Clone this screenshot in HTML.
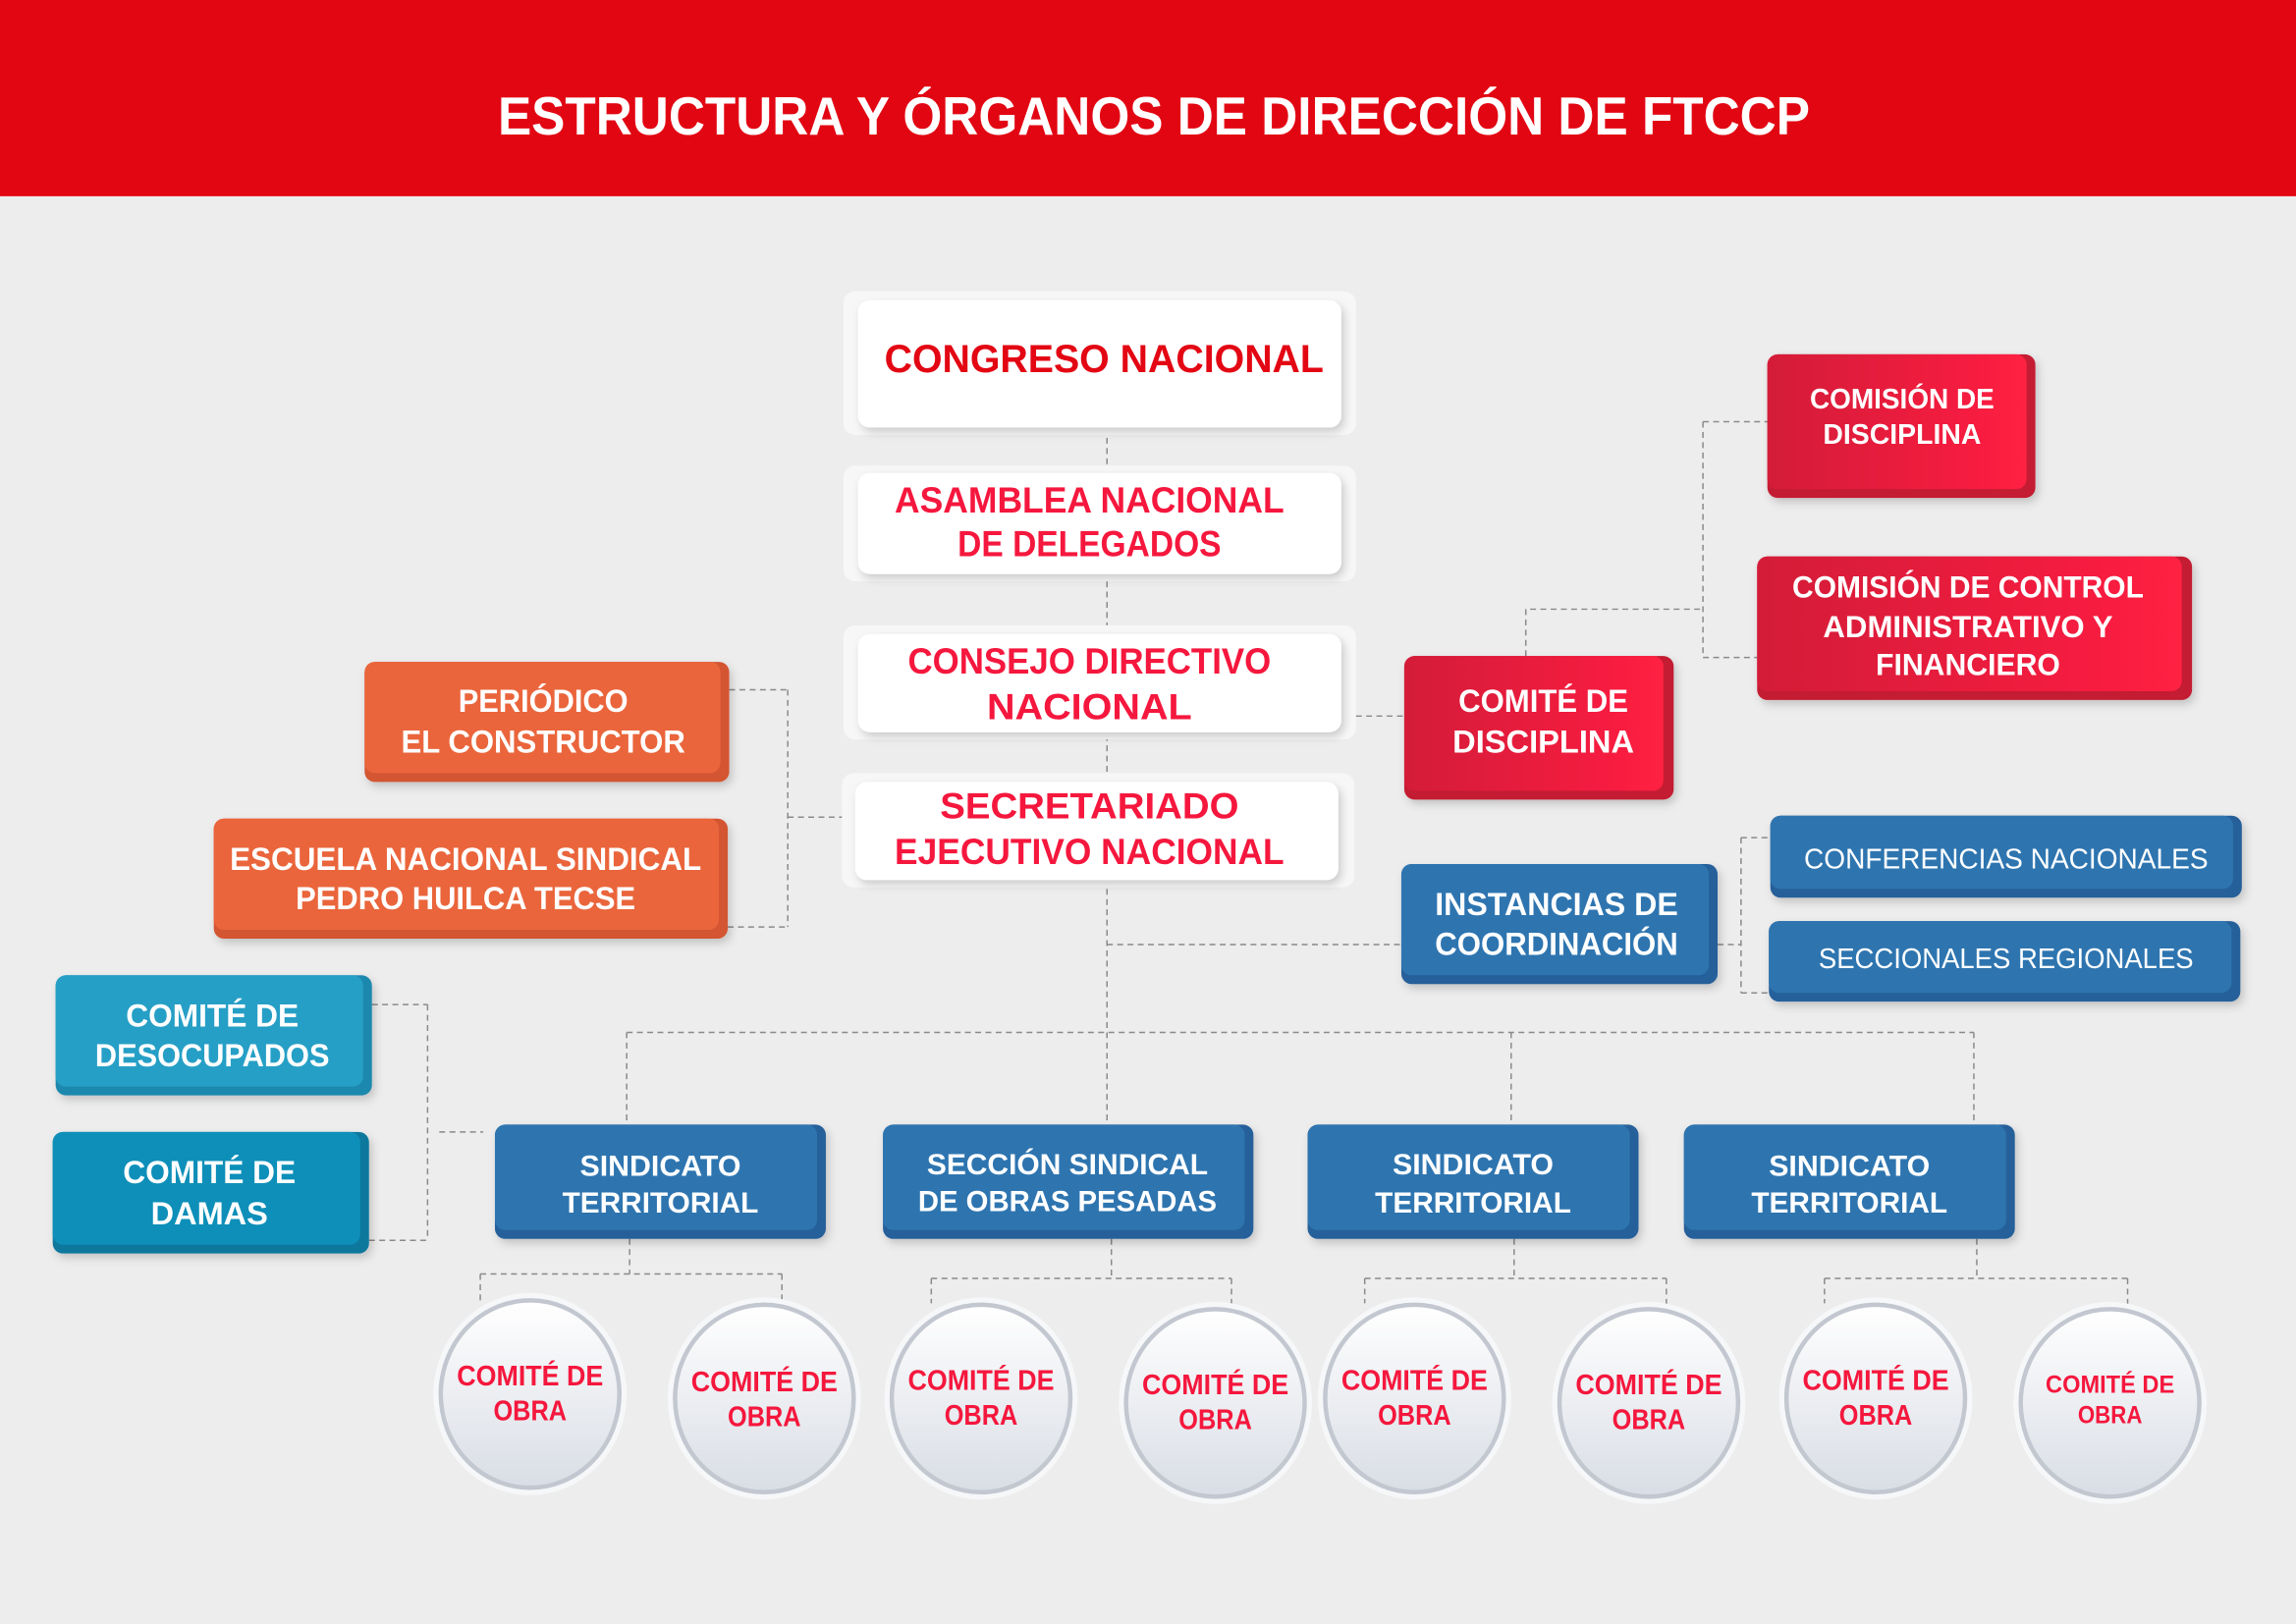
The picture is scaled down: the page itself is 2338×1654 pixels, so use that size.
<!DOCTYPE html>
<html><head><meta charset="utf-8"><style>
html,body{margin:0;padding:0;background:#ededed;}
svg{display:block}
text{font-family:"Liberation Sans",sans-serif;font-weight:bold;text-anchor:middle}
</style></head><body>
<svg width="2338" height="1654" viewBox="0 0 1568 1109" preserveAspectRatio="none" xmlns="http://www.w3.org/2000/svg">
<defs>
<linearGradient id="rg" x1="0" x2="1"><stop offset="0" stop-color="#d31a38"/><stop offset="1" stop-color="#ff2042"/></linearGradient>
<linearGradient id="cg" x1="0" y1="0" x2="0" y2="1"><stop offset="0" stop-color="#ffffff"/><stop offset="1" stop-color="#d9dde5"/></linearGradient>
<filter id="sh" x="-10%" y="-10%" width="130%" height="140%"><feDropShadow dx="2" dy="3" stdDeviation="3" flood-color="#000" flood-opacity="0.18"/></filter>
</defs>
<rect x="0" y="0" width="1568" height="1109" fill="#ededed"/>
<rect x="0" y="0" width="1568" height="134" fill="#e20613"/>
<text x="788" y="92" font-size="37" fill="#fff" textLength="896" lengthAdjust="spacingAndGlyphs">ESTRUCTURA Y ÓRGANOS DE DIRECCIÓN DE FTCCP</text>

<g stroke="#8a8a8a" stroke-width="1" stroke-dasharray="4,3" fill="none">
<path d="M756 292V705M428 705H1348M428 705V768M756 705V768M1032 705V768M1348 705V768"/>
<path d="M756 645H957M926 489H959"/>
<path d="M1042 448V416H1163M1163 288V449M1163 288H1207M1163 449H1200"/>
<path d="M1173 645H1189M1189 572V678M1189 572H1209M1189 678H1209"/>
<path d="M538 558H575M538 471V633M498 471H538M497 633H538"/>
<path d="M292 686V847M254 686H292M252 847H292M300 773H330"/>
<path d="M430 846V870M328 870H534M328 870V888M534 870V888"/>
<path d="M759 846V873M636 873H841M636 873V890M841 873V892"/>
<path d="M1034 846V873M932 873H1138M932 873V890M1138 873V892"/>
<path d="M1350 846V873M1246 873H1453M1246 873V890M1453 873V892"/>
</g>

<!-- white boxes -->
<g>
<rect x="576" y="199" width="350" height="98" rx="8" fill="#f7f7f7"/>
<rect x="586" y="205" width="330" height="87" rx="8" fill="#fff" filter="url(#sh)"/>
<rect x="576" y="318" width="350" height="79" rx="8" fill="#f7f7f7"/>
<rect x="586" y="323" width="330" height="69" rx="8" fill="#fff" filter="url(#sh)"/>
<rect x="576" y="427" width="350" height="78" rx="8" fill="#f7f7f7"/>
<rect x="586" y="433" width="330" height="67" rx="8" fill="#fff" filter="url(#sh)"/>
<rect x="575" y="528" width="350" height="78" rx="8" fill="#f7f7f7"/>
<rect x="584" y="534" width="330" height="67" rx="8" fill="#fff" filter="url(#sh)"/>
</g>
<text x="754" y="254" font-size="27" fill="#e30613" textLength="300" lengthAdjust="spacingAndGlyphs">CONGRESO NACIONAL</text>
<g font-size="25" fill="#f5173d">
<text x="744" y="350" textLength="266" lengthAdjust="spacingAndGlyphs">ASAMBLEA NACIONAL</text>
<text x="744" y="380" textLength="180" lengthAdjust="spacingAndGlyphs">DE DELEGADOS</text>
<text x="744" y="460" textLength="248" lengthAdjust="spacingAndGlyphs">CONSEJO DIRECTIVO</text>
<text x="744" y="491" textLength="140" lengthAdjust="spacingAndGlyphs">NACIONAL</text>
<text x="744" y="559" textLength="204" lengthAdjust="spacingAndGlyphs">SECRETARIADO</text>
<text x="744" y="590" textLength="266" lengthAdjust="spacingAndGlyphs">EJECUTIVO NACIONAL</text>
</g>

<!-- red boxes -->
<g filter="url(#sh)">
<rect x="959" y="448" width="184" height="98" rx="7" fill="#c41a33"/>
<rect x="959" y="448" width="177" height="92" rx="7" fill="url(#rg)"/>
<rect x="1207" y="242" width="183" height="98" rx="7" fill="#c41a33"/>
<rect x="1207" y="242" width="177" height="92" rx="7" fill="url(#rg)"/>
<rect x="1200" y="380" width="297" height="98" rx="7" fill="#c41a33"/>
<rect x="1200" y="380" width="290" height="92" rx="7" fill="url(#rg)"/>
</g>
<g fill="#fff">
<text x="1054" y="486" font-size="22" textLength="116" lengthAdjust="spacingAndGlyphs">COMITÉ DE</text>
<text x="1054" y="514" font-size="22" textLength="124" lengthAdjust="spacingAndGlyphs">DISCIPLINA</text>
<text x="1299" y="279" font-size="19" textLength="126" lengthAdjust="spacingAndGlyphs">COMISIÓN DE</text>
<text x="1299" y="303" font-size="19" textLength="108" lengthAdjust="spacingAndGlyphs">DISCIPLINA</text>
<text x="1344" y="408" font-size="21" textLength="240" lengthAdjust="spacingAndGlyphs">COMISIÓN DE CONTROL</text>
<text x="1344" y="435" font-size="21" textLength="198" lengthAdjust="spacingAndGlyphs">ADMINISTRATIVO Y</text>
<text x="1344" y="461" font-size="21" textLength="126" lengthAdjust="spacingAndGlyphs">FINANCIERO</text>
</g>

<!-- blue boxes -->
<g filter="url(#sh)">
<rect x="957" y="590" width="216" height="82" rx="7" fill="#26609a"/>
<rect x="957" y="590" width="210" height="76" rx="7" fill="#2e75b0"/>
<rect x="1209" y="557" width="322" height="56" rx="7" fill="#26609a"/>
<rect x="1209" y="557" width="316" height="50" rx="7" fill="#2e75b0"/>
<rect x="1208" y="629" width="322" height="55" rx="7" fill="#26609a"/>
<rect x="1208" y="629" width="316" height="49" rx="7" fill="#2e75b0"/>
<rect x="338" y="768" width="226" height="78" rx="7" fill="#26609a"/>
<rect x="338" y="768" width="220" height="72" rx="7" fill="#2e75b0"/>
<rect x="603" y="768" width="253" height="78" rx="7" fill="#26609a"/>
<rect x="603" y="768" width="247" height="72" rx="7" fill="#2e75b0"/>
<rect x="893" y="768" width="226" height="78" rx="7" fill="#26609a"/>
<rect x="893" y="768" width="220" height="72" rx="7" fill="#2e75b0"/>
<rect x="1150" y="768" width="226" height="78" rx="7" fill="#26609a"/>
<rect x="1150" y="768" width="220" height="72" rx="7" fill="#2e75b0"/>
</g>
<g fill="#fff">
<text x="1063" y="625" font-size="22" textLength="166" lengthAdjust="spacingAndGlyphs">INSTANCIAS DE</text>
<text x="1063" y="652" font-size="22" textLength="166" lengthAdjust="spacingAndGlyphs">COORDINACIÓN</text>
<text x="1370" y="593" font-size="19" font-weight="normal" style="font-weight:500" textLength="276" lengthAdjust="spacingAndGlyphs">CONFERENCIAS NACIONALES</text>
<text x="1370" y="661" font-size="19" style="font-weight:500" textLength="256" lengthAdjust="spacingAndGlyphs">SECCIONALES REGIONALES</text>
<text x="451" y="803" font-size="20" textLength="110" lengthAdjust="spacingAndGlyphs">SINDICATO</text>
<text x="451" y="828" font-size="20" textLength="134" lengthAdjust="spacingAndGlyphs">TERRITORIAL</text>
<text x="729" y="802" font-size="20" textLength="192" lengthAdjust="spacingAndGlyphs">SECCIÓN SINDICAL</text>
<text x="729" y="827" font-size="20" textLength="204" lengthAdjust="spacingAndGlyphs">DE OBRAS PESADAS</text>
<text x="1006" y="802" font-size="20" textLength="110" lengthAdjust="spacingAndGlyphs">SINDICATO</text>
<text x="1006" y="828" font-size="20" textLength="134" lengthAdjust="spacingAndGlyphs">TERRITORIAL</text>
<text x="1263" y="803" font-size="20" textLength="110" lengthAdjust="spacingAndGlyphs">SINDICATO</text>
<text x="1263" y="828" font-size="20" textLength="134" lengthAdjust="spacingAndGlyphs">TERRITORIAL</text>
</g>

<!-- orange boxes -->
<g filter="url(#sh)">
<rect x="249" y="452" width="249" height="82" rx="7" fill="#d45530"/>
<rect x="249" y="452" width="243" height="76" rx="7" fill="#ea653b"/>
<rect x="146" y="559" width="351" height="82" rx="7" fill="#d45530"/>
<rect x="146" y="559" width="345" height="76" rx="7" fill="#ea653b"/>
<rect x="38" y="666" width="216" height="82" rx="7" fill="#1f88ad"/>
<rect x="38" y="666" width="210" height="76" rx="7" fill="#289fc6"/>
<rect x="36" y="773" width="216" height="83" rx="7" fill="#07789c"/>
<rect x="36" y="773" width="210" height="77" rx="7" fill="#0a8fb9"/>
</g>
<g fill="#fff" font-size="22">
<text x="371" y="486" textLength="116" lengthAdjust="spacingAndGlyphs">PERIÓDICO</text>
<text x="371" y="514" textLength="194" lengthAdjust="spacingAndGlyphs">EL CONSTRUCTOR</text>
<text x="318" y="594" textLength="322" lengthAdjust="spacingAndGlyphs">ESCUELA NACIONAL SINDICAL</text>
<text x="318" y="621" textLength="232" lengthAdjust="spacingAndGlyphs">PEDRO HUILCA TECSE</text>
<text x="145" y="701" textLength="118" lengthAdjust="spacingAndGlyphs">COMITÉ DE</text>
<text x="145" y="728" textLength="160" lengthAdjust="spacingAndGlyphs">DESOCUPADOS</text>
<text x="143" y="808" textLength="118" lengthAdjust="spacingAndGlyphs">COMITÉ DE</text>
<text x="143" y="836" textLength="80" lengthAdjust="spacingAndGlyphs">DAMAS</text>
</g>

<!-- circles -->
<g>
<g transform="translate(362,952)"><ellipse rx="66" ry="69" fill="#f6f7f9"/><ellipse rx="61" ry="64" fill="url(#cg)" stroke="#c2c7d0" stroke-width="3"/></g>
<g transform="translate(522,955)"><ellipse rx="66" ry="69" fill="#f6f7f9"/><ellipse rx="61" ry="64" fill="url(#cg)" stroke="#c2c7d0" stroke-width="3"/></g>
<g transform="translate(670,955)"><ellipse rx="66" ry="69" fill="#f6f7f9"/><ellipse rx="61" ry="64" fill="url(#cg)" stroke="#c2c7d0" stroke-width="3"/></g>
<g transform="translate(830,958)"><ellipse rx="66" ry="69" fill="#f6f7f9"/><ellipse rx="61" ry="64" fill="url(#cg)" stroke="#c2c7d0" stroke-width="3"/></g>
<g transform="translate(966,955)"><ellipse rx="66" ry="69" fill="#f6f7f9"/><ellipse rx="61" ry="64" fill="url(#cg)" stroke="#c2c7d0" stroke-width="3"/></g>
<g transform="translate(1126,958)"><ellipse rx="66" ry="69" fill="#f6f7f9"/><ellipse rx="61" ry="64" fill="url(#cg)" stroke="#c2c7d0" stroke-width="3"/></g>
<g transform="translate(1281,955)"><ellipse rx="66" ry="69" fill="#f6f7f9"/><ellipse rx="61" ry="64" fill="url(#cg)" stroke="#c2c7d0" stroke-width="3"/></g>
<g transform="translate(1441,958)"><ellipse rx="66" ry="69" fill="#f6f7f9"/><ellipse rx="61" ry="64" fill="url(#cg)" stroke="#c2c7d0" stroke-width="3"/></g>
</g>
<g fill="#f5173d" font-size="19">
<text x="362" y="946" textLength="100" lengthAdjust="spacingAndGlyphs">COMITÉ DE</text><text x="362" y="970" textLength="50" lengthAdjust="spacingAndGlyphs">OBRA</text>
<text x="522" y="950" textLength="100" lengthAdjust="spacingAndGlyphs">COMITÉ DE</text><text x="522" y="974" textLength="50" lengthAdjust="spacingAndGlyphs">OBRA</text>
<text x="670" y="949" textLength="100" lengthAdjust="spacingAndGlyphs">COMITÉ DE</text><text x="670" y="973" textLength="50" lengthAdjust="spacingAndGlyphs">OBRA</text>
<text x="830" y="952" textLength="100" lengthAdjust="spacingAndGlyphs">COMITÉ DE</text><text x="830" y="976" textLength="50" lengthAdjust="spacingAndGlyphs">OBRA</text>
<text x="966" y="949" textLength="100" lengthAdjust="spacingAndGlyphs">COMITÉ DE</text><text x="966" y="973" textLength="50" lengthAdjust="spacingAndGlyphs">OBRA</text>
<text x="1126" y="952" textLength="100" lengthAdjust="spacingAndGlyphs">COMITÉ DE</text><text x="1126" y="976" textLength="50" lengthAdjust="spacingAndGlyphs">OBRA</text>
<text x="1281" y="949" textLength="100" lengthAdjust="spacingAndGlyphs">COMITÉ DE</text><text x="1281" y="973" textLength="50" lengthAdjust="spacingAndGlyphs">OBRA</text>
<text x="1441" y="951" font-size="17" textLength="88" lengthAdjust="spacingAndGlyphs">COMITÉ DE</text><text x="1441" y="972" font-size="17" textLength="44" lengthAdjust="spacingAndGlyphs">OBRA</text>
</g>
</svg>
</body></html>
